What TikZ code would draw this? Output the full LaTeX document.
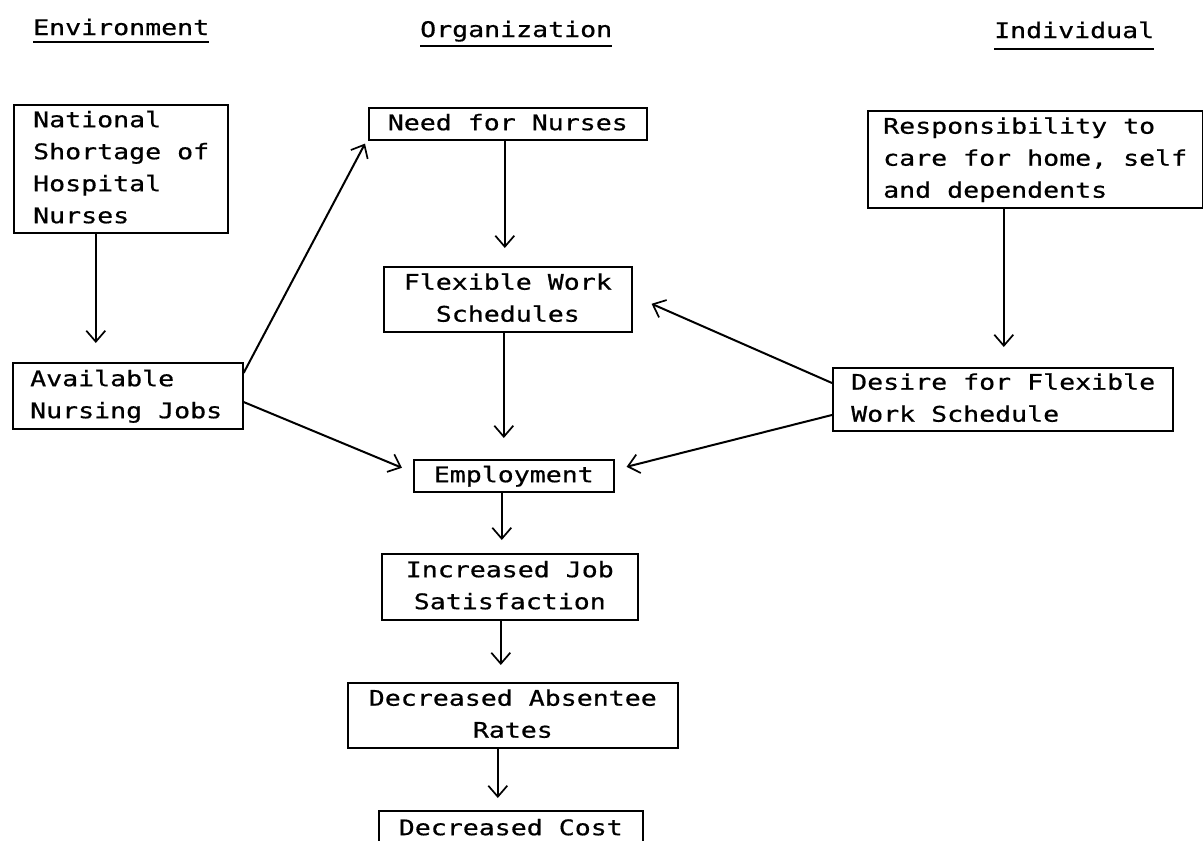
\documentclass[tikz,border=0pt]{standalone}
\usepackage{fontspec}
\newfontfamily\tw[FakeStretch=1.236,FakeBold=0.6]{DejaVu Sans Mono}
\usetikzlibrary{arrows.meta}
\newcommand\tfont{\tw\fontsize{21.5pt}{32pt}\selectfont}
\begin{document}
\begin{tikzpicture}[x=1pt,y=-1pt,
  box/.style={draw, line width=1.6pt, inner sep=0pt, anchor=north west, font=\tfont, align=center},
  txt/.style={inner sep=0pt, anchor=west, font=\tfont, align=left},
  hdr/.style={inner sep=0pt, anchor=base west, font=\tfont},
  uline/.style={line width=1.8pt},
  arr/.style={line width=2pt, -{Straight Barb[length=11pt,width=19pt,line width=1.7pt]}}]
\useasboundingbox (0,0) rectangle (1203,841);
\fill[white] (0,0) rectangle (1203,841);

% headers
\node[hdr] (henv) at (33,35) {Environment};
\node[hdr] (horg) at (420,37) {Organization};
\node[hdr] (hind) at (994,38) {Individual};
\draw[uline] ([yshift=-7pt]henv.base west) -- ([yshift=-7pt]henv.base east);
\draw[uline] ([yshift=-9pt]horg.base west) -- ([yshift=-9pt]horg.base east);
\draw[uline] ([yshift=-11pt]hind.base west) -- ([yshift=-11pt]hind.base east);

% boxes
\node[box, minimum width=214pt, minimum height=128pt] (nat) at (13,104) {};
\node[txt] (nattxt) at ([xshift=20pt]nat.west) {\strut National\\\strut Shortage of\\\strut Hospital\\\strut Nurses};

\node[box, minimum width=278pt, minimum height=32pt] (need) at (368,107) {\strut Need for Nurses};

\node[box, minimum width=335pt, minimum height=97pt] (resp) at (867,110) {};
\node[txt] (resptxt) at ([xshift=16pt]resp.west) {\strut Responsibility to\\\strut care for home, self\\\strut and dependents};

\node[box, minimum width=248pt, minimum height=65pt] (fws) at (383,266) {\strut Flexible Work\\\strut Schedules};

\node[box, minimum width=230pt, minimum height=66pt] (avail) at (12,362) {};
\node[txt] (availtxt) at ([xshift=18pt]avail.west) {\strut Available\\\strut Nursing Jobs};

\node[box, minimum width=340pt, minimum height=63pt] (desire) at (832,367) {};
\node[txt] (desiretxt) at ([xshift=19pt]desire.west) {\strut Desire for Flexible\\\strut Work Schedule};

\node[box, minimum width=200pt, minimum height=32pt] (emp) at (413,459) {\strut Employment};
\node[box, minimum width=256pt, minimum height=66pt] (ijs) at (381,553) {\strut Increased Job\\\strut Satisfaction};
\node[box, minimum width=330pt, minimum height=65pt] (dar) at (347,682) {\strut Decreased Absentee\\\strut Rates};
\node[box, minimum width=264pt, minimum height=36pt] (dc) at (378,810) {\strut Decreased Cost};

% vertical connectors
\draw[arr, shorten >=19pt] ([xshift=-25pt]nat.south) -- ([xshift=-25pt]nat.south |- avail.north);
\draw[arr, shorten >=18pt] ([xshift=-3pt]need.south) -- ([xshift=-3pt]need.south |- fws.north);
\draw[arr, shorten >=21pt] ([xshift=-4pt]fws.south) -- ([xshift=-4pt]fws.south |- emp.north);
\draw[arr, shorten >=13pt] ([xshift=-12pt]emp.south) -- ([xshift=-12pt]emp.south |- ijs.north);
\draw[arr, shorten >=17pt] ([xshift=-9pt]ijs.south) -- ([xshift=-9pt]ijs.south |- dar.north);
\draw[arr, shorten >=12pt] ([xshift=-15pt]dar.south) -- ([xshift=-15pt]dar.south |- dc.north);
\draw[arr, shorten >=20pt] ([xshift=-31.5pt]resp.south) -- ([xshift=-31.5pt]resp.south |- desire.north);

% diagonal connectors
\draw[arr] ([yshift=-11pt]avail.north east) -- ([xshift=-3pt,yshift=-3pt]need.south west);
\draw[arr] ([yshift=-40pt]avail.north east) -- ([xshift=-11pt,yshift=8pt]emp.west);
\draw[arr] ([yshift=-16pt]desire.north west) -- ([xshift=19pt,yshift=-4.5pt]fws.east);
\draw[arr] ([yshift=-48pt]desire.north west) -- ([xshift=12pt,yshift=9pt]emp.east);
\end{tikzpicture}
\end{document}
